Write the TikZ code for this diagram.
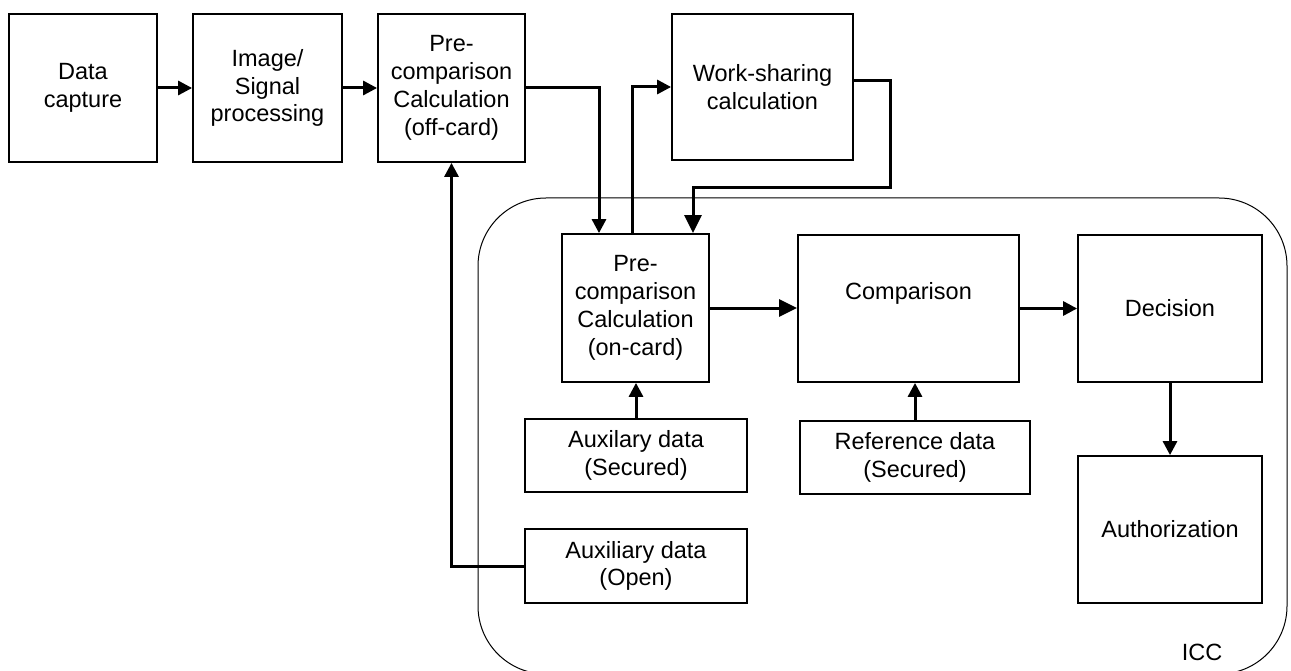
\documentclass[tikz,border=0pt]{standalone}
\usepackage{fontspec}
\setmainfont{Liberation Sans}
\usetikzlibrary{arrows.meta}
\tikzset{
  box/.style={draw, line width=1.8pt, inner sep=0pt, align=center, font=\fontsize{23.5}{27.8}\selectfont},
  txt/.style={inner sep=0pt, align=center, font=\fontsize{23.5}{27.8}\selectfont},
  arr/.style={line width=3pt, -{Triangle[length=14pt,width=14pt]}},
  bigarr/.style={line width=3pt, -{Triangle[length=18pt,width=17pt]}}
}
\begin{document}
\begin{tikzpicture}[x=1pt,y=-1pt]
\useasboundingbox (0,0) rectangle (1291,671);
% ICC region
\draw[line width=1pt, rounded corners=68pt] (478,198) rectangle (1287,674);
\node[txt] (icc) at (1202,652) {ICC};
% boxes
\node[box, minimum width=148pt, minimum height=148pt] (dc) at (83,88) {Data\\capture};
\node[box, minimum width=149pt, minimum height=148pt] (isp) at (267.5,88) {Image/\\Signal\\processing};
\node[box, minimum width=147pt, minimum height=148pt] (preoff) at (451.5,88) {Pre-\\comparison\\Calculation\\(off-card)};
\node[box, minimum width=181pt, minimum height=146pt] (ws) at (762.5,87) {Work-sharing\\calculation};
\node[box, minimum width=147pt, minimum height=148pt] (preon) at (635.5,308) {Pre-\\comparison\\Calculation\\(on-card)};
\node[box, minimum width=221pt, minimum height=147pt] (comp) at (908.5,308.5) {};
\node[txt] (comptext) at (908.5,293) {Comparison};
\node[box, minimum width=184pt, minimum height=147pt] (dec) at (1170,308.5) {Decision};
\node[box, minimum width=184pt, minimum height=147pt] (auth) at (1170,529.5) {Authorization};
\node[box, minimum width=222pt, minimum height=73pt] (auxs) at (636,455.5) {Auxilary data\\(Secured)};
\node[box, minimum width=230pt, minimum height=73pt] (refs) at (915,457.5) {Reference data\\(Secured)};
\node[box, minimum width=222pt, minimum height=74pt] (auxo) at (636,566) {Auxiliary data\\(Open)};
\coordinate (wsturn) at (890,188);
% connectors
\draw[arr] (dc.east) -- (isp.west);
\draw[arr] (isp.east) -- (preoff.west);
\draw[arr] (preoff.east) -| ([xshift=-36.5pt]preon.north);
\draw[arr] ([xshift=-3.5pt]preon.north) |- (ws.west);
\draw[bigarr] ([yshift=6pt]ws.east) -| (wsturn) -| ([xshift=57.5pt]preon.north);
\draw[bigarr] (preon.east) -- (preon.east -| comp.west);
\draw[arr] (comp.east) -- (dec.west);
\draw[arr] (dec.south) -- (auth.north);
\draw[arr] (auxs.north) -- (auxs.north |- preon.south);
\draw[arr] (refs.north) -- (refs.north |- comp.south);
\draw[arr] (auxo.west) -| (preoff.south);
\end{tikzpicture}
\end{document}
